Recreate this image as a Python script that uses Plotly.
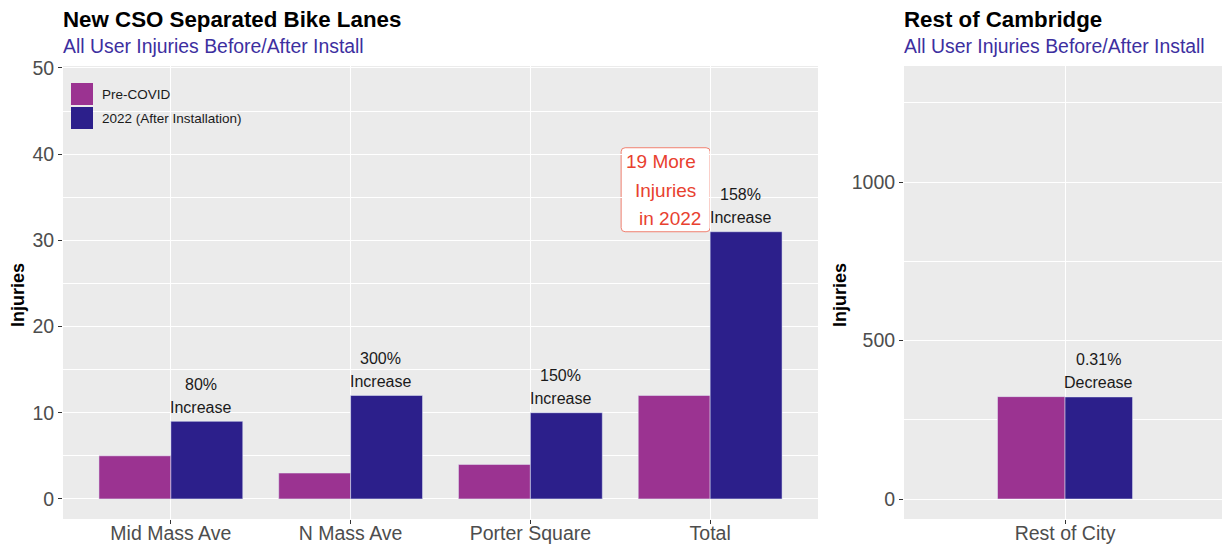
import plotly.graph_objects as go

# ---- data ----
categories = ["Mid Mass Ave", "N Mass Ave", "Porter Square", "Total"]
pre_covid = [5, 3, 4, 12]
after_2022 = [9, 12, 10, 31]

city_categories = ["Rest of City"]
city_pre = [323]
city_after = [322]

series_names = ["Pre-COVID", "2022 (After Installation)"]
left_ticks = [0, 10, 20, 30, 40, 50]
right_ticks = [0, 500, 1000]

# ---- style ----
W, H = 1222, 546
C_PRE = "#9b3391"
C_POST = "#2c1f8b"
PANEL = "#ebebeb"
TICK_COL = "#4d4d4d"
SUB_COL = "#3d2f9f"
RED = "#e8412f"
FONT = "Liberation Sans, Arial, sans-serif"


def px(x):
    return x / W


def py(y):
    return 1 - y / H


fig = go.Figure()
fig.add_trace(go.Bar(x=categories, y=pre_covid, name=series_names[0], marker_color=C_PRE,
                     xaxis="x", yaxis="y", showlegend=False))
fig.add_trace(go.Bar(x=categories, y=after_2022, name=series_names[1], marker_color=C_POST,
                     xaxis="x", yaxis="y", showlegend=False))
fig.add_trace(go.Bar(x=city_categories, y=city_pre, name=series_names[0], marker_color=C_PRE,
                     xaxis="x2", yaxis="y2", showlegend=False))
fig.add_trace(go.Bar(x=city_categories, y=city_after, name=series_names[1], marker_color=C_POST,
                     xaxis="x2", yaxis="y2", showlegend=False))

ydom = [py(519), py(66)]
common_x = dict(showgrid=True, gridcolor="white", gridwidth=1.3, zeroline=False, showline=False,
                ticks="outside", ticklen=4, tickcolor="#333333", tickwidth=1, automargin=False,
                ticklabelstandoff=-7,
                tickfont=dict(size=19.5, color=TICK_COL, family=FONT), type="category")
common_y = dict(showgrid=True, gridcolor="white", gridwidth=1.3, zeroline=False, showline=False,
                ticks="outside", ticklen=4, tickcolor="#333333", tickwidth=1, automargin=False,
                tickfont=dict(size=19.5, color=TICK_COL, family=FONT))

fig.update_layout(
    width=W, height=H, margin=dict(l=0, r=0, t=0, b=0, pad=0),
    paper_bgcolor="white", plot_bgcolor=PANEL,
    barmode="group", bargap=0.2, bargroupgap=0,
    font=dict(family=FONT),
    xaxis=dict(domain=[px(63), px(818)], range=[-0.6, 3.6], anchor="y", **common_x),
    yaxis=dict(domain=ydom, range=[-2.33, 50.23], tickvals=left_ticks, anchor="x",
               minor=dict(dtick=5, tick0=0, showgrid=True, gridcolor="white", gridwidth=0.6, ticks=""),
               **common_y),
    xaxis2=dict(domain=[px(904), 1.0], range=[-0.954, 0.93], anchor="y2", **common_x),
    yaxis2=dict(domain=ydom, range=[-63, 1366], tickvals=right_ticks, anchor="x2",
                minor=dict(dtick=250, tick0=0, showgrid=True, gridcolor="white", gridwidth=0.6, ticks=""),
                **common_y),
)

ann = []
# titles
for x0, title in [(63, "New CSO Separated Bike Lanes"), (904, "Rest of Cambridge")]:
    ann.append(dict(text="<b>" + title + "</b>", x=px(x0 - 2), y=py(20), xref="paper", yref="paper",
                    xanchor="left", yanchor="middle", showarrow=False,
                    font=dict(size=22.3, color="black", family=FONT)))
    ann.append(dict(text="All User Injuries Before/After Install", x=px(x0 - 2), y=py(46),
                    xref="paper", yref="paper", xanchor="left", yanchor="middle", showarrow=False,
                    font=dict(size=19.4, color=SUB_COL, family=FONT)))
# y titles
for xp in [18, 840]:
    ann.append(dict(text="<b>Injuries</b>", x=px(xp), y=py(295), xref="paper", yref="paper",
                    textangle=-90, xanchor="center", yanchor="middle", showarrow=False,
                    font=dict(size=18, color="black", family=FONT)))

# percent-change labels
def pct_labels(cats, pre, post, xref, yref, fmt, xshift):
    for i, (a, b) in enumerate(zip(pre, post)):
        ch = (b - a) / a * 100
        word = "Increase" if ch >= 0 else "Decrease"
        val = format(abs(ch), fmt) + "%"
        for txt, ys in [(word, 14), (val, 37)]:
            ann.append(dict(text=txt, x=i + 0.2, y=b, xref=xref, yref=yref, xanchor="center",
                            yanchor="middle", yshift=ys, xshift=xshift, showarrow=False,
                            font=dict(size=16, color="#1a1a1a", family=FONT)))

pct_labels(categories, pre_covid, after_2022, "x", "y", ".0f", -6)
pct_labels(city_categories, city_pre, city_after, "x2", "y2", ".2f", 0)

# "19 More Injuries in 2022" label
ti = len(categories) - 1
diff = after_2022[ti] - pre_covid[ti]
lines = [(f"{diff} More", 70, -12), ("Injuries", 41, -12), ("in 2022", 13, -7)]
for txt, ys, xs in lines:
    ann.append(dict(text=txt, x=ti, y=after_2022[ti], xref="x", yref="y", xanchor="right",
                    yanchor="middle", yshift=ys, xshift=xs, showarrow=False,
                    font=dict(size=19, color=RED, family=FONT)))

# legend labels
for name, yc in zip(series_names, [94, 118]):
    ann.append(dict(text=name, x=px(100), y=py(yc), xref="paper", yref="paper", xanchor="left",
                    yanchor="middle", showarrow=False, font=dict(size=13.5, color="#1a1a1a", family=FONT)))

fig.update_layout(annotations=ann)

shapes = []
# rounded box around red label (pixel-sized, anchored on the Total bar top)
r = 4
w, h = 89, 84
path = (f"M {-w + r},0 L {-r},0 Q 0,0 0,{r} L 0,{h - r} Q 0,{h} {-r},{h} "
        f"L {-w + r},{h} Q {-w},{h} {-w},{h - r} L {-w},{r} Q {-w},0 {-w + r},0 Z")
shapes.append(dict(type="path", xref="x", yref="y", xsizemode="pixel", ysizemode="pixel",
                   xanchor=ti, yanchor=after_2022[ti], path=path,
                   fillcolor="white", line=dict(color="#f08070", width=1), layer="below"))
# legend swatches
for col, (y0, y1) in zip([C_PRE, C_POST], [(83, 105), (107, 129)]):
    shapes.append(dict(type="rect", xref="paper", yref="paper", x0=px(71), x1=px(93),
                       y0=py(y1), y1=py(y0), fillcolor=col, line=dict(width=0)))
fig.update_layout(shapes=shapes)

fig.write_html("out.html")
